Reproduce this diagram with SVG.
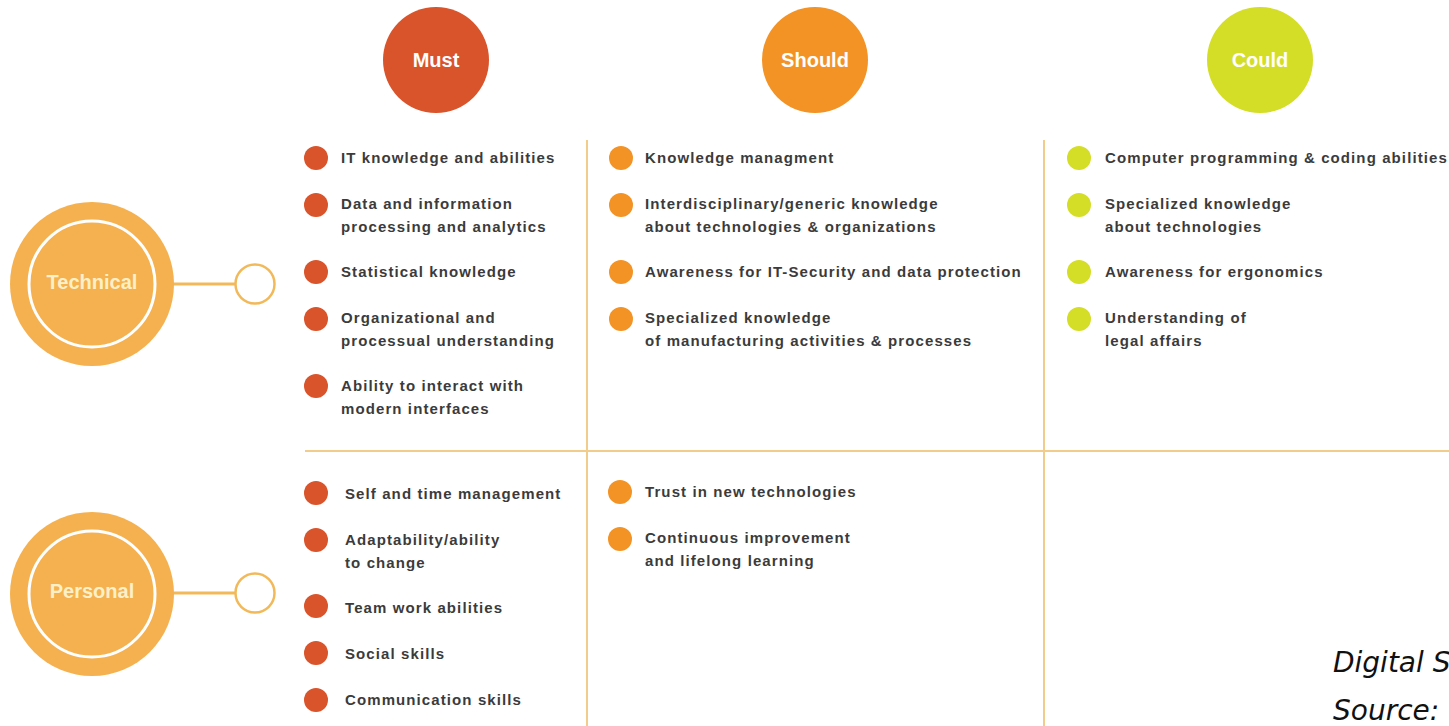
<svg xmlns="http://www.w3.org/2000/svg" width="1449" height="726" viewBox="0 0 1449 726">
<style>
.t{font-family:"Liberation Sans",Arial,sans-serif;font-weight:bold;font-size:15px;letter-spacing:1.1px;fill:#3b3b3b}
.h{font-family:"Liberation Sans",Arial,sans-serif;font-weight:bold;font-size:20px;fill:#fff;text-anchor:middle}
.c{font-family:"Liberation Sans",Arial,sans-serif;font-weight:bold;font-size:20px;fill:#fdf0c8;text-anchor:middle}
.m{fill:#d9532b}.s{fill:#f39325}.k{fill:#d4de26}
.g{stroke:#f1cc8a;stroke-width:2;fill:none}
.cap{font-family:"DejaVu Sans",Verdana,sans-serif;font-style:italic;font-size:28px;fill:#111}
</style>
<rect width="1449" height="726" fill="#fff"/>
<g id="grid">
<line class="g" x1="587" y1="140" x2="587" y2="726"/>
<line class="g" x1="1044" y1="140" x2="1044" y2="726"/>
<line class="g" x1="305" y1="451" x2="1449" y2="451"/>
</g>
<g id="connectors">
<line x1="172" y1="284" x2="235" y2="284" stroke="#f2b95a" stroke-width="3"/>
<line x1="172" y1="593" x2="235" y2="593" stroke="#f2b95a" stroke-width="3"/>
</g>
<g id="must"><circle cx="436" cy="60" r="53" class="m"/><text x="436" y="67" class="h">Must</text></g>
<g id="should"><circle cx="815" cy="60" r="53" class="s"/><text x="815" y="67" class="h">Should</text></g>
<g id="could"><circle cx="1260" cy="60" r="53" class="k"/><text x="1260" y="67" class="h">Could</text></g>
<g id="technical">
<circle cx="92" cy="284" r="82" fill="#f5b14f"/>
<circle cx="92" cy="284" r="63" fill="none" stroke="#fff" stroke-width="3"/>
<text x="92" y="289" class="c">Technical</text>
<circle cx="255" cy="284" r="19.5" fill="#fff" stroke="#f2b95a" stroke-width="2.5"/>
</g>
<g id="personal">
<circle cx="92" cy="594" r="82" fill="#f5b14f"/>
<circle cx="92" cy="594" r="63" fill="none" stroke="#fff" stroke-width="3"/>
<text x="92" y="598" class="c">Personal</text>
<circle cx="255" cy="593" r="19.5" fill="#fff" stroke="#f2b95a" stroke-width="2.5"/>
</g>
<g id="must-technical">
<circle cx="316" cy="158" r="12" class="m"/><text x="341" y="163" class="t">IT knowledge and abilities</text>
<circle cx="316" cy="205" r="12" class="m"/><text x="341" y="209" class="t">Data and information</text><text x="341" y="232" class="t">processing and analytics</text>
<circle cx="316" cy="272" r="12" class="m"/><text x="341" y="277" class="t">Statistical knowledge</text>
<circle cx="316" cy="319" r="12" class="m"/><text x="341" y="323" class="t">Organizational and</text><text x="341" y="346" class="t">processual understanding</text>
<circle cx="316" cy="386" r="12" class="m"/><text x="341" y="391" class="t">Ability to interact with</text><text x="341" y="414" class="t">modern interfaces</text>
</g>
<g id="should-technical">
<circle cx="621" cy="158" r="12" class="s"/><text x="645" y="163" class="t">Knowledge managment</text>
<circle cx="621" cy="205" r="12" class="s"/><text x="645" y="209" class="t">Interdisciplinary/generic knowledge</text><text x="645" y="232" class="t">about technologies &amp; organizations</text>
<circle cx="621" cy="272" r="12" class="s"/><text x="645" y="277" class="t">Awareness for IT-Security and data protection</text>
<circle cx="621" cy="319" r="12" class="s"/><text x="645" y="323" class="t">Specialized knowledge</text><text x="645" y="346" class="t">of manufacturing activities &amp; processes</text>
</g>
<g id="could-technical">
<circle cx="1079" cy="158" r="12" class="k"/><text x="1105" y="163" class="t">Computer programming &amp; coding abilities</text>
<circle cx="1079" cy="205" r="12" class="k"/><text x="1105" y="209" class="t">Specialized knowledge</text><text x="1105" y="232" class="t">about technologies</text>
<circle cx="1079" cy="272" r="12" class="k"/><text x="1105" y="277" class="t">Awareness for ergonomics</text>
<circle cx="1079" cy="319" r="12" class="k"/><text x="1105" y="323" class="t">Understanding of</text><text x="1105" y="346" class="t">legal affairs</text>
</g>
<g id="must-personal">
<circle cx="316" cy="493" r="12" class="m"/><text x="345" y="499" class="t">Self and time management</text>
<circle cx="316" cy="540" r="12" class="m"/><text x="345" y="545" class="t">Adaptability/ability</text><text x="345" y="568" class="t">to change</text>
<circle cx="316" cy="606" r="12" class="m"/><text x="345" y="613" class="t">Team work abilities</text>
<circle cx="316" cy="653" r="12" class="m"/><text x="345" y="659" class="t">Social skills</text>
<circle cx="316" cy="700" r="12" class="m"/><text x="345" y="705" class="t">Communication skills</text>
</g>
<g id="should-personal">
<circle cx="620" cy="492" r="12" class="s"/><text x="645" y="497" class="t">Trust in new technologies</text>
<circle cx="620" cy="539" r="12" class="s"/><text x="645" y="543" class="t">Continuous improvement</text><text x="645" y="566" class="t">and lifelong learning</text>
</g>
<g id="caption">
<text x="1333" y="672" class="cap">Digital S</text>
<text x="1333" y="720" class="cap">Source:</text>
</g>
</svg>
